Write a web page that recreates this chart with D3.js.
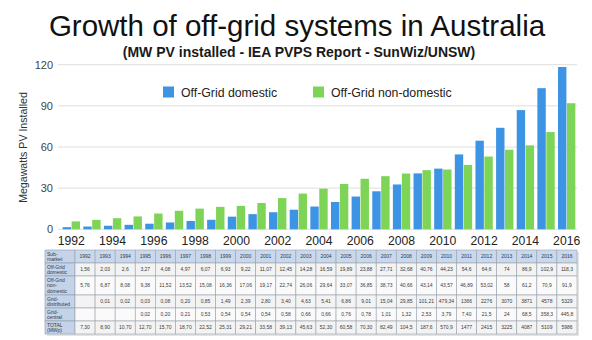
<!DOCTYPE html>
<html>
<head>
<meta charset="utf-8">
<script src="https://cdn.jsdelivr.net/npm/d3@7"></script>
<style>
  html, body { margin: 0; padding: 0; background: #fff; }
  svg { display: block; font-family: "Liberation Sans", Arial, Helvetica, sans-serif; }
</style>
</head>
<body>
<svg id="chart" width="592" height="340"></svg>
<script>
// Installed off-grid PV capacity (MW) by year
const years = d3.range(1992, 2017);
const domestic = [1.56, 2.03, 2.6, 3.27, 4.08, 4.97, 6.07, 6.93, 9.22, 11.07, 12.45, 14.28, 16.59,
  19.89, 23.88, 27.71, 32.68, 40.76, 44.23, 54.6, 64.6, 74, 86.9, 102.9, 118.3];
const nonDomestic = [5.76, 6.87, 8.08, 9.38, 11.52, 13.52, 15.08, 16.36, 17.06, 19.17, 22.74, 26.06, 29.64,
  33.07, 36.85, 38.73, 40.66, 43.14, 43.57, 46.89, 53.02, 58, 61.2, 70.9, 91.9];
const gridDistributed = ["", "0,01", "0,02", "0,03", "0,08", "0,20", "0,85", "1,49", "2,39", "2,80", "3,40",
  "4,63", "5,41", "6,86", "9,01", "15,04", "29,85", "101,21", "479,34", "1366", "2276", "3070", "3871", "4578", "5329"];
const gridCentral = ["", "", "", "0,02", "0,20", "0,21", "0,53", "0,54", "0,54", "0,54", "0,58", "0,66",
  "0,66", "0,76", "0,78", "1,01", "1,32", "2,53", "3,79", "7,40", "21,5", "24", "68,5", "358,3", "445,8"];
const totals = ["7,30", "8,90", "10,70", "12,70", "15,70", "18,70", "22,52", "25,31", "29,21", "33,58", "39,13",
  "45,63", "52,30", "60,58", "70,30", "82,49", "104,5", "187,6", "570,9", "1477", "2415", "3225", "4087", "5109", "5986"];
const yTicks = [0, 30, 60, 90, 120];
const xTickYears = d3.range(1992, 2017, 2);
const seriesNames = ["Off-Grid domestic", "Off-Grid non-domestic"];
const seriesColors = ["#3d94e4", "#7ed456"];
const rowLabels = [["Sub-", "market"], ["Off-Grid", "domestic"], ["Off-Grid", "non-", "domestic"],
  ["Grid-", "distributed"], ["Grid-", "central"], ["TOTAL", "(MWp)"]];

const svg = d3.select("#chart");

// Titles
svg.append("text").attr("x", 297).attr("y", 36).attr("text-anchor", "middle")
  .attr("font-size", 29.5).attr("fill", "#111").text("Growth of off-grid systems in Australia");
svg.append("text").attr("x", 299).attr("y", 57).attr("text-anchor", "middle")
  .attr("font-size", 14).attr("font-weight", "bold").attr("fill", "#1a1a1a")
  .text("(MW PV installed - IEA PVPS Report - SunWiz/UNSW)");

// Scales
const y = d3.scaleLinear().domain([0, 120]).range([229.3, 64.7]);
const x = d3.scaleBand().domain(years).range([61, 577]).paddingInner(0.16).paddingOuter(0.08);
const xs = d3.scaleBand().domain([0, 1]).range([0, x.bandwidth()]).paddingInner(0.06);

// Gridlines
svg.append("g").selectAll("line").data(yTicks).join("line")
  .attr("x1", 58).attr("x2", 577)
  .attr("y1", d => y(d)).attr("y2", d => y(d))
  .attr("stroke", "#dedede").attr("stroke-width", 1);

// Y axis labels
const yAxis = svg.append("g").attr("transform", "translate(56,0)")
  .call(d3.axisLeft(y).tickValues(yTicks).tickSize(0).tickPadding(3));
yAxis.select(".domain").remove();
yAxis.selectAll("text").attr("font-size", 11).attr("fill", "#444")
  .attr("font-family", "'Liberation Sans', Arial, sans-serif");

svg.append("text").attr("transform", "translate(27,147.5) rotate(-90)")
  .attr("text-anchor", "middle").attr("font-size", 10.6).attr("fill", "#333")
  .text("Megawatts PV Installed");

// Bars
const series = [domestic, nonDomestic];
const barG = svg.append("g");
series.forEach((vals, si) => {
  barG.append("g").selectAll("rect").data(years).join("rect")
    .attr("x", (d) => x(d) + xs(si))
    .attr("width", xs.bandwidth())
    .attr("y", (d, i) => y(vals[i]))
    .attr("height", (d, i) => y(0) - y(vals[i]))
    .attr("fill", seriesColors[si]);
});

// X axis labels
const xAxis = svg.append("g").attr("transform", `translate(0,${y(0)})`)
  .call(d3.axisBottom(x).tickValues(xTickYears).tickSize(0).tickPadding(7));
xAxis.select(".domain").remove();
xAxis.selectAll("text").attr("font-size", 12.2).attr("fill", "#222")
  .attr("font-family", "'Liberation Sans', Arial, sans-serif");

// Legend
const legend = svg.append("g");
const legendX = [163, 313];
seriesNames.forEach((name, i) => {
  legend.append("rect").attr("x", legendX[i]).attr("y", 86.5).attr("width", 11).attr("height", 11)
    .attr("fill", seriesColors[i]);
  legend.append("text").attr("x", legendX[i] + 18).attr("y", 96.5)
    .attr("font-size", 12.3).attr("fill", "#222").text(name);
});

// Data table
const fmt = v => String(v).replace(".", ",");
const tableRows = [
  years.map(String),
  domestic.map(fmt),
  nonDomestic.map(fmt),
  gridDistributed,
  gridCentral,
  totals
];
const rowEdges = [250, 263, 276, 295, 308, 321, 334];
const tableLeft = 45, labelRight = 75, tableRight = 577;
const col = d3.scaleBand().domain(years).range([labelRight, tableRight]);

const table = svg.append("g").attr("font-size", 5).attr("fill", "#333");
// shadow
table.append("rect").attr("x", tableLeft + 2).attr("y", rowEdges[0] + 2)
  .attr("width", tableRight - tableLeft).attr("height", rowEdges[6] - rowEdges[0])
  .attr("fill", "#e4e4e4");

tableRows.forEach((row, r) => {
  const y0 = rowEdges[r], h = rowEdges[r + 1] - rowEdges[r];
  // label cell
  table.append("rect").attr("x", tableLeft).attr("y", y0).attr("width", labelRight - tableLeft).attr("height", h)
    .attr("fill", "#c4d3e8").attr("stroke", "#8e9aab").attr("stroke-width", 0.6);
  const lines = rowLabels[r];
  const lh = 5.6;
  const startY = y0 + h / 2 - (lines.length - 1) * lh / 2 + 1.8;
  lines.forEach((t, k) => {
    table.append("text").attr("x", tableLeft + 2).attr("y", startY + k * lh)
      .attr("fill", "#2c3a4d").text(t);
  });
  // value cells
  years.forEach((yr, c) => {
    table.append("rect").attr("x", col(yr)).attr("y", y0).attr("width", col.bandwidth()).attr("height", h)
      .attr("fill", r === 0 ? "#c9d8ec" : (r % 2 ? "#f3f3f3" : "#fafafa"))
      .attr("stroke", "#9ba3ad").attr("stroke-width", 0.6);
    if (row[c] !== "") {
      table.append("text").attr("x", col(yr) + col.bandwidth() / 2).attr("y", y0 + h / 2 + 1.8)
        .attr("text-anchor", "middle").attr("fill", r === 0 ? "#2c3a4d" : "#3a3a3a").text(row[c]);
    }
  });
});
</script>
</body>
</html>
